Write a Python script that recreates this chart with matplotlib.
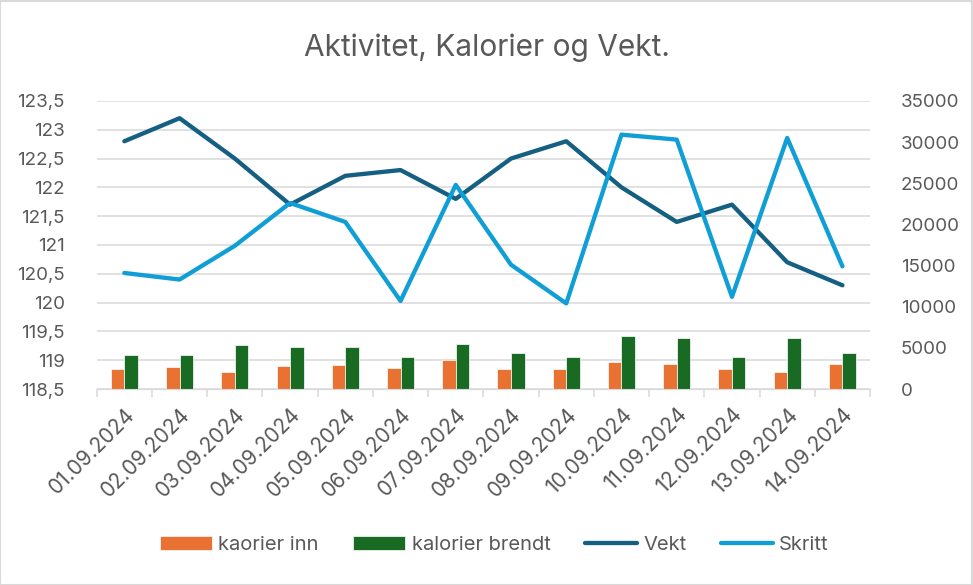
import numpy as np
import matplotlib
matplotlib.use("Agg")
import matplotlib.pyplot as plt
from matplotlib.patches import Rectangle

plt.rcParams['font.family'] = ['Inter', 'DejaVu Sans']

# data
datoer = ["01.09.2024", "02.09.2024", "03.09.2024", "04.09.2024", "05.09.2024",
          "06.09.2024", "07.09.2024", "08.09.2024", "09.09.2024", "10.09.2024",
          "11.09.2024", "12.09.2024", "13.09.2024", "14.09.2024"]
kalorier_inn = [2400, 2650, 2100, 2850, 2900, 2500, 3500, 2400, 2400, 3250, 3050, 2400, 2100, 3100]
kalorier_brendt = [4150, 4150, 5350, 5150, 5150, 3950, 5450, 4350, 3950, 6450, 6150, 3850, 6250, 4350]
vekt = [122.8, 123.2, 122.5, 121.7, 122.2, 122.3, 121.8, 122.5, 122.8, 122.0, 121.4, 121.7, 120.7, 120.3]
skritt = [14100, 13300, 17400, 22600, 20300, 10700, 24800, 15100, 10400, 30900, 30300, 11200, 30500, 14900]

venstre_ticks = [118.5 + 0.5 * i for i in range(11)]
hoyre_ticks = [5000 * i for i in range(8)]

tekstfarge = "#595959"
gridfarge = "#d9d9d9"

fig = plt.figure(figsize=(9.73, 5.85), dpi=100)
ax = fig.add_axes([0.0994, 0.335, 0.7948, 0.4925])
ax2 = ax.twinx()

x = np.arange(len(datoer))
b = 0.245

# søylene ligger på sekundæraksen sammen med skritt
ax2.bar(x - b / 2, kalorier_inn, b, color="#E97132", edgecolor="white", linewidth=0.5,
        label="kaorier inn", zorder=2)
ax2.bar(x + b / 2, kalorier_brendt, b, color="#196B24", edgecolor="white", linewidth=0.5,
        label="kalorier brendt", zorder=2)
l1, = ax.plot(x, vekt, color="#156082", lw=3.1, solid_capstyle="round",
              solid_joinstyle="round", label="Vekt")
l2, = ax2.plot(x, skritt, color="#0F9ED5", lw=3.1, solid_capstyle="round",
               solid_joinstyle="round", label="Skritt", zorder=3)

ax.set_xlim(-0.5, len(datoer) - 0.5)
ax.set_ylim(118.5, 123.5)
ax2.set_ylim(0, 35000)

ax.set_yticks(venstre_ticks)
ax.set_yticklabels([("%g" % v).replace(".", ",") for v in venstre_ticks])
ax2.set_yticks(hoyre_ticks)
ax2.set_yticklabels([str(v) for v in hoyre_ticks])

ax.grid(axis="y", color=gridfarge, lw=1.1)
ax.set_axisbelow(True)

for a in (ax, ax2):
    for s in ("top", "left", "right"):
        a.spines[s].set_visible(False)
    a.spines["bottom"].set_color(gridfarge)
    a.tick_params(axis="y", length=0, labelsize=13.5, labelcolor=tekstfarge)
ax.tick_params(axis="y", pad=23)
ax2.tick_params(axis="y", pad=22)

ax.set_xticks(x)
ax.set_xticklabels(datoer, rotation=45, ha="right", rotation_mode="anchor")
ax.set_xticks(np.arange(len(datoer) + 1) - 0.5, minor=True)
ax.tick_params(axis="x", which="major", length=0, labelsize=15, labelcolor=tekstfarge, pad=11)
ax.tick_params(axis="x", which="minor", length=6, color=gridfarge, width=1.1)

fig.suptitle("Aktivitet, Kalorier og Vekt.", x=0.5, y=0.942, fontsize=21.5, color=tekstfarge)

handles, labels = ax2.get_legend_handles_labels()
fig.legend([handles[1], handles[2], l1, l2], ["kaorier inn", "kalorier brendt", "Vekt", "Skritt"],
           loc="center", bbox_to_anchor=(0.508, 0.068), ncol=4, frameon=False,
           fontsize=14.5, labelcolor=tekstfarge, handlelength=2.6, handletextpad=0.3,
           columnspacing=1.7)

fig.add_artist(Rectangle((0.0005, 0.0008), 0.998, 0.998, transform=fig.transFigure,
                         fill=False, edgecolor=gridfarge, lw=1.5))

fig.savefig("out.png", dpi=100)
